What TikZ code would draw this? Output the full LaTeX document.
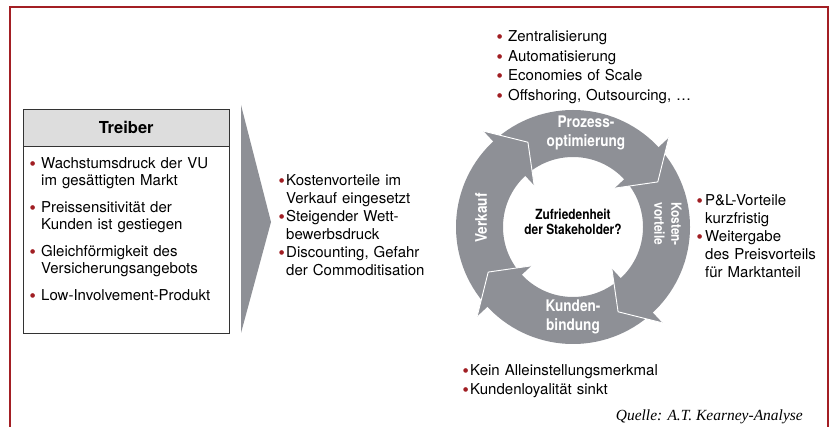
\documentclass[tikz,border=0pt]{standalone}
\usepackage{fontspec}
\setmainfont{TeX Gyre Heros}
\newfontfamily\condfont{TeX Gyre Heros}[FakeStretch=0.85]
\newfontfamily\quellefont{Liberation Serif}
\newfontfamily\dotfont{DejaVu Sans}
\usetikzlibrary{positioning}

\definecolor{framered}{RGB}{163,31,36}
\definecolor{dotred}{RGB}{160,30,35}
\definecolor{ringgrey}{RGB}{142,144,150}
\definecolor{headgrey}{RGB}{221,221,221}

% red dot, then the item text in a hanging block
\newcommand{\bdot}{\textcolor{dotred}{\raisebox{3pt}{\dotfont\fontsize{6}{6}\selectfont ●}}}
\newcommand{\ditem}[2]{\noindent\makebox[#1][l]{\bdot}%
  \parbox[t]{\dimexpr\hsize-#1\relax}{\raggedright #2\strut}\par\prevdepth=\dp\strutbox}

\tikzset{
  list/.style={anchor=north west, inner sep=0pt, font=\fontsize{15}{18}\selectfont},
  ringlabel/.style={text=white, align=center, font=\condfont\bfseries\fontsize{16}{19}\selectfont}
}

\begin{document}
\begin{tikzpicture}[x=1pt,y=-1pt]
  \useasboundingbox (0,0) rectangle (833,427);

  % frame
  \draw[framered, line width=1.5pt] (10,427) -- (10,7) -- (828,7) -- (828,427);

  % drivers box
  \node[draw=black!80, fill=headgrey, minimum width=206pt, minimum height=37pt,
        anchor=north west, font=\bfseries\fontsize{16.5}{18}\selectfont] (treiber) at (23,109) {Treiber};
  \node[draw=black!80, minimum width=206pt, minimum height=187pt,
        anchor=north west] (treiberbody) at (treiber.south west) {};
  \node[list, text width=196pt, font=\fontsize{15}{17}\selectfont] (drivers) at (30,157.5) {\parskip=10pt
    \ditem{11pt}{Wachstumsdruck der VU\\im gesättigten Markt}
    \ditem{11pt}{Preissensitivität der\\Kunden ist gestiegen}
    \ditem{11pt}{Gleichförmigkeit des\\Versicherungsangebots}
    \ditem{11pt}{Low-Involvement-Produkt}};

  % chevron
  \fill[ringgrey] (241,105) -- (271,222) -- (241,333) -- cycle;

  % sales list
  \node[list, text width=150pt] (sales) at (279,174.5) {%
    \ditem{7pt}{Kostenvorteile im\\Verkauf eingesetzt}
    \ditem{7pt}{Steigender Wett-\\bewerbsdruck}
    \ditem{7pt}{Discounting, Gefahr\\der Commoditisation}};

  % cycle
  \coordinate (ringc) at (573,227);
  \begin{scope}[shift={(ringc)}, yscale=-1]
    \fill[ringgrey, even odd rule] (0,0) circle (117) (0,0) circle (70);
    \foreach \b [evaluate=\b as \t using \b-15] in {43,133,223,313} {
      \fill[ringgrey] (\b:131) -- (\t:96) -- (\b:57) -- cycle;
      \draw[white, line width=0.9pt] (\b:131) -- (\t:96) -- (\b:57);
    }
  \end{scope}

  \node[ringlabel] (prozess) at (586,133) {Prozess-\\optimierung};
  \node[ringlabel, rotate=-90, font=\condfont\bfseries\fontsize{14}{17}\selectfont] (kosten) at (668,224) {Kosten-\\vorteile};
  \node[ringlabel] (kunden) at (573,317) {Kunden-\\bindung};
  \node[ringlabel, rotate=90] (verkauf) at (481,218) {Verkauf};
  \node[align=center, font=\condfont\bfseries\fontsize{14}{15}\selectfont] (hub) at (573,222) {Zufriedenheit\\der Stakeholder?};

  % lists round the cycle
  \node[list, text width=220pt, font=\fontsize{15}{19.5}\selectfont] (prozesslist) at (497,28) {%
    \ditem{11pt}{Zentralisierung}
    \ditem{11pt}{Automatisierung}
    \ditem{11pt}{Economies of Scale}
    \ditem{11pt}{Offshoring, Outsourcing, \ldots}};
  \node[list, text width=125pt] (kostenlist) at (697,194.5) {%
    \ditem{8pt}{P\&L-Vorteile\\kurzfristig}
    \ditem{8pt}{Weitergabe\\des Preisvorteils\\für Marktanteil}};
  \node[list, text width=250pt, font=\fontsize{15}{19}\selectfont] (kundenlist) at (463,362.5) {%
    \ditem{7pt}{Kein Alleinstellungsmerkmal}
    \ditem{7pt}{Kundenloyalität sinkt}};

  % source
  \node[anchor=east, inner sep=0pt, font=\quellefont\itshape\fontsize{15.5}{17}\selectfont] (quelle) at (803,417) {Quelle: A.T. Kearney-Analyse};
\end{tikzpicture}
\end{document}
